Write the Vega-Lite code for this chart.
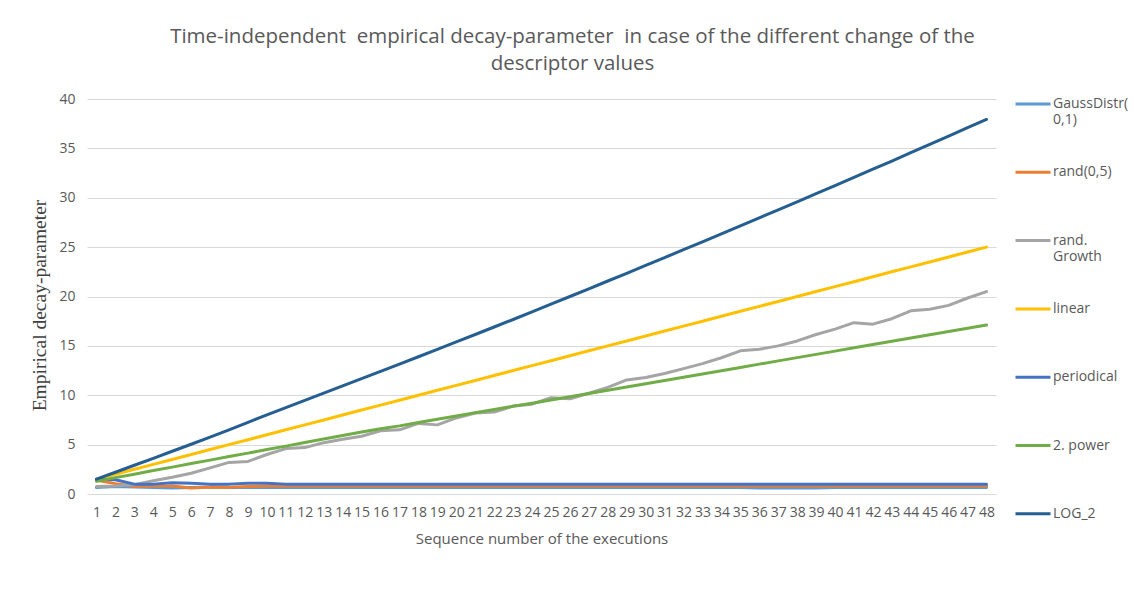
{
  "$schema": "https://vega.github.io/schema/vega-lite/v6.json",
  "width": 909,
  "height": 395,
  "autosize": {"type": "none"},
  "padding": {"left": 87, "top": 99, "right": 138, "bottom": 110},
  "background": "white",
  "title": {
    "text": ["Time-independent\u00a0 empirical decay-parameter\u00a0 in case of the different change of the", "descriptor values"],
    "font": "Open Sans",
    "fontSize": 20.5,
    "fontWeight": "normal",
    "color": "#595959",
    "lineHeight": 27,
    "anchor": "middle",
    "frame": "group",
    "dx": 31,
    "offset": 11
  },
  "data": {
    "values": [
      {"n": 1, "GaussDistr": 0.65, "rand05": 1.40, "randGrowth": 0.75, "linear": 1.5, "periodical": 1.50, "power2": 1.30, "LOG_2": 1.50},
      {"n": 2, "GaussDistr": 0.75, "rand05": 1.05, "randGrowth": 0.80, "linear": 2.0, "periodical": 1.45, "power2": 1.66, "LOG_2": 2.20},
      {"n": 3, "GaussDistr": 0.70, "rand05": 0.78, "randGrowth": 0.95, "linear": 2.5, "periodical": 1.00, "power2": 2.01, "LOG_2": 2.91},
      {"n": 4, "GaussDistr": 0.65, "rand05": 0.80, "randGrowth": 1.35, "linear": 3.0, "periodical": 1.00, "power2": 2.37, "LOG_2": 3.61},
      {"n": 5, "GaussDistr": 0.62, "rand05": 0.80, "randGrowth": 1.70, "linear": 3.5, "periodical": 1.15, "power2": 2.72, "LOG_2": 4.33},
      {"n": 6, "GaussDistr": 0.65, "rand05": 0.60, "randGrowth": 2.10, "linear": 4.0, "periodical": 1.10, "power2": 3.08, "LOG_2": 5.04},
      {"n": 7, "GaussDistr": 0.70, "rand05": 0.70, "randGrowth": 2.65, "linear": 4.5, "periodical": 1.00, "power2": 3.43, "LOG_2": 5.76},
      {"n": 8, "GaussDistr": 0.65, "rand05": 0.68, "randGrowth": 3.20, "linear": 5.0, "periodical": 1.00, "power2": 3.79, "LOG_2": 6.50},
      {"n": 9, "GaussDistr": 0.65, "rand05": 0.75, "randGrowth": 3.30, "linear": 5.5, "periodical": 1.10, "power2": 4.14, "LOG_2": 7.25},
      {"n": 10, "GaussDistr": 0.65, "rand05": 0.80, "randGrowth": 4.00, "linear": 6.0, "periodical": 1.10, "power2": 4.50, "LOG_2": 8.02},
      {"n": 11, "GaussDistr": 0.65, "rand05": 0.80, "randGrowth": 4.60, "linear": 6.5, "periodical": 1.00, "power2": 4.85, "LOG_2": 8.75},
      {"n": 12, "GaussDistr": 0.65, "rand05": 0.80, "randGrowth": 4.70, "linear": 7.0, "periodical": 1.00, "power2": 5.21, "LOG_2": 9.48},
      {"n": 13, "GaussDistr": 0.65, "rand05": 0.80, "randGrowth": 5.20, "linear": 7.5, "periodical": 1.00, "power2": 5.56, "LOG_2": 10.21},
      {"n": 14, "GaussDistr": 0.65, "rand05": 0.80, "randGrowth": 5.55, "linear": 8.0, "periodical": 1.00, "power2": 5.92, "LOG_2": 10.95},
      {"n": 15, "GaussDistr": 0.65, "rand05": 0.80, "randGrowth": 5.85, "linear": 8.5, "periodical": 1.00, "power2": 6.27, "LOG_2": 11.68},
      {"n": 16, "GaussDistr": 0.65, "rand05": 0.80, "randGrowth": 6.40, "linear": 9.0, "periodical": 1.00, "power2": 6.60, "LOG_2": 12.42},
      {"n": 17, "GaussDistr": 0.65, "rand05": 0.80, "randGrowth": 6.50, "linear": 9.5, "periodical": 1.00, "power2": 6.90, "LOG_2": 13.16},
      {"n": 18, "GaussDistr": 0.65, "rand05": 0.80, "randGrowth": 7.15, "linear": 10.0, "periodical": 1.00, "power2": 7.25, "LOG_2": 13.90},
      {"n": 19, "GaussDistr": 0.65, "rand05": 0.80, "randGrowth": 7.00, "linear": 10.5, "periodical": 1.00, "power2": 7.58, "LOG_2": 14.65},
      {"n": 20, "GaussDistr": 0.65, "rand05": 0.80, "randGrowth": 7.70, "linear": 11.0, "periodical": 1.00, "power2": 7.90, "LOG_2": 15.40},
      {"n": 21, "GaussDistr": 0.65, "rand05": 0.80, "randGrowth": 8.20, "linear": 11.5, "periodical": 1.00, "power2": 8.22, "LOG_2": 16.15},
      {"n": 22, "GaussDistr": 0.65, "rand05": 0.80, "randGrowth": 8.30, "linear": 12.0, "periodical": 1.00, "power2": 8.55, "LOG_2": 16.91},
      {"n": 23, "GaussDistr": 0.65, "rand05": 0.80, "randGrowth": 8.90, "linear": 12.5, "periodical": 1.00, "power2": 8.88, "LOG_2": 17.67},
      {"n": 24, "GaussDistr": 0.65, "rand05": 0.80, "randGrowth": 9.10, "linear": 13.0, "periodical": 1.00, "power2": 9.20, "LOG_2": 18.45},
      {"n": 25, "GaussDistr": 0.65, "rand05": 0.80, "randGrowth": 9.75, "linear": 13.5, "periodical": 1.00, "power2": 9.52, "LOG_2": 19.22},
      {"n": 26, "GaussDistr": 0.65, "rand05": 0.80, "randGrowth": 9.65, "linear": 14.0, "periodical": 1.00, "power2": 9.85, "LOG_2": 20.00},
      {"n": 27, "GaussDistr": 0.65, "rand05": 0.80, "randGrowth": 10.20, "linear": 14.5, "periodical": 1.00, "power2": 10.18, "LOG_2": 20.78},
      {"n": 28, "GaussDistr": 0.65, "rand05": 0.80, "randGrowth": 10.80, "linear": 15.0, "periodical": 1.00, "power2": 10.51, "LOG_2": 21.57},
      {"n": 29, "GaussDistr": 0.65, "rand05": 0.80, "randGrowth": 11.55, "linear": 15.5, "periodical": 1.00, "power2": 10.84, "LOG_2": 22.35},
      {"n": 30, "GaussDistr": 0.65, "rand05": 0.80, "randGrowth": 11.80, "linear": 16.0, "periodical": 1.00, "power2": 11.17, "LOG_2": 23.15},
      {"n": 31, "GaussDistr": 0.65, "rand05": 0.80, "randGrowth": 12.20, "linear": 16.5, "periodical": 1.00, "power2": 11.50, "LOG_2": 23.94},
      {"n": 32, "GaussDistr": 0.65, "rand05": 0.80, "randGrowth": 12.70, "linear": 17.0, "periodical": 1.00, "power2": 11.83, "LOG_2": 24.74},
      {"n": 33, "GaussDistr": 0.65, "rand05": 0.80, "randGrowth": 13.20, "linear": 17.5, "periodical": 1.00, "power2": 12.16, "LOG_2": 25.54},
      {"n": 34, "GaussDistr": 0.65, "rand05": 0.80, "randGrowth": 13.80, "linear": 18.0, "periodical": 1.00, "power2": 12.49, "LOG_2": 26.34},
      {"n": 35, "GaussDistr": 0.65, "rand05": 0.80, "randGrowth": 14.50, "linear": 18.5, "periodical": 1.00, "power2": 12.82, "LOG_2": 27.15},
      {"n": 36, "GaussDistr": 0.60, "rand05": 0.80, "randGrowth": 14.65, "linear": 19.0, "periodical": 1.00, "power2": 13.15, "LOG_2": 27.96},
      {"n": 37, "GaussDistr": 0.60, "rand05": 0.80, "randGrowth": 15.00, "linear": 19.5, "periodical": 1.00, "power2": 13.48, "LOG_2": 28.77},
      {"n": 38, "GaussDistr": 0.60, "rand05": 0.80, "randGrowth": 15.50, "linear": 20.0, "periodical": 1.00, "power2": 13.81, "LOG_2": 29.59},
      {"n": 39, "GaussDistr": 0.62, "rand05": 0.80, "randGrowth": 16.15, "linear": 20.5, "periodical": 1.00, "power2": 14.14, "LOG_2": 30.41},
      {"n": 40, "GaussDistr": 0.65, "rand05": 0.80, "randGrowth": 16.70, "linear": 21.0, "periodical": 1.00, "power2": 14.47, "LOG_2": 31.23},
      {"n": 41, "GaussDistr": 0.65, "rand05": 0.80, "randGrowth": 17.35, "linear": 21.5, "periodical": 1.00, "power2": 14.80, "LOG_2": 32.06},
      {"n": 42, "GaussDistr": 0.65, "rand05": 0.80, "randGrowth": 17.20, "linear": 22.0, "periodical": 1.00, "power2": 15.13, "LOG_2": 32.89},
      {"n": 43, "GaussDistr": 0.65, "rand05": 0.80, "randGrowth": 17.75, "linear": 22.5, "periodical": 1.00, "power2": 15.46, "LOG_2": 33.72},
      {"n": 44, "GaussDistr": 0.65, "rand05": 0.80, "randGrowth": 18.55, "linear": 23.0, "periodical": 1.00, "power2": 15.79, "LOG_2": 34.56},
      {"n": 45, "GaussDistr": 0.65, "rand05": 0.80, "randGrowth": 18.70, "linear": 23.5, "periodical": 1.00, "power2": 16.12, "LOG_2": 35.40},
      {"n": 46, "GaussDistr": 0.65, "rand05": 0.80, "randGrowth": 19.10, "linear": 24.0, "periodical": 1.00, "power2": 16.45, "LOG_2": 36.24},
      {"n": 47, "GaussDistr": 0.65, "rand05": 0.80, "randGrowth": 19.85, "linear": 24.5, "periodical": 1.00, "power2": 16.78, "LOG_2": 37.09},
      {"n": 48, "GaussDistr": 0.65, "rand05": 0.80, "randGrowth": 20.50, "linear": 25.0, "periodical": 1.00, "power2": 17.11, "LOG_2": 37.93}
    ]
  },
  "transform": [
    {"fold": ["GaussDistr", "rand05", "randGrowth", "linear", "periodical", "power2", "LOG_2"], "as": ["series", "value"]}
  ],
  "mark": {"type": "line", "strokeWidth": 3, "strokeCap": "round", "strokeJoin": "round"},
  "encoding": {
    "x": {
      "field": "n",
      "type": "ordinal",
      "scale": {"type": "point", "padding": 0.5},
      "axis": {
        "title": "Sequence number of the executions",
        "titleFont": "Open Sans",
        "titleFontSize": 15,
        "titleFontWeight": "normal",
        "titleColor": "#595959",
        "titlePadding": 12,
        "labelAngle": 0,
        "labelFont": "Open Sans",
        "labelFontSize": 14,
        "labelColor": "#595959",
        "labelPadding": 11,
        "labelOverlap": false,
        "ticks": false,
        "domain": false,
        "grid": false
      }
    },
    "y": {
      "field": "value",
      "type": "quantitative",
      "scale": {"domain": [0, 40], "nice": false},
      "axis": {
        "title": "Empirical decay-parameter",
        "titleFont": "Liberation Serif",
        "titleFontSize": 19.5,
        "titleFontWeight": "normal",
        "titleColor": "#404040",
        "titlePadding": 9,
        "titleY": 206,
        "values": [0, 5, 10, 15, 20, 25, 30, 35, 40],
        "labelFont": "Open Sans",
        "labelFontSize": 14,
        "labelColor": "#595959",
        "labelPadding": 12,
        "ticks": false,
        "domain": false,
        "grid": true,
        "gridColor": "#D9D9D9",
        "gridWidth": 1
      }
    },
    "color": {
      "field": "series",
      "type": "nominal",
      "scale": {
        "domain": ["GaussDistr", "rand05", "randGrowth", "linear", "periodical", "power2", "LOG_2"],
        "range": ["#5B9BD5", "#ED7D31", "#A5A5A5", "#FFC000", "#4472C4", "#70AD47", "#255E91"]
      },
      "legend": {
        "title": null,
        "orient": "none",
        "legendX": 927,
        "legendY": -14,
        "padding": 0,
        "symbolType": "stroke",
        "symbolStrokeWidth": 3,
        "symbolSize": 1225,
        "labelFont": "Open Sans",
        "labelFontSize": 14,
        "labelColor": "#595959",
        "labelOffset": 1,
        "labelLimit": 200,
        "rowPadding": 26.3,
        "labelExpr": "datum.value == 'GaussDistr' ? ['GaussDistr(', '0,1)'] : datum.value == 'rand05' ? ['rand(0,5)', ''] : datum.value == 'randGrowth' ? ['rand.', 'Growth'] : datum.value == 'power2' ? ['2. power', ''] : [datum.value, '']"
      }
    }
  },
  "config": {"view": {"stroke": null}}
}
